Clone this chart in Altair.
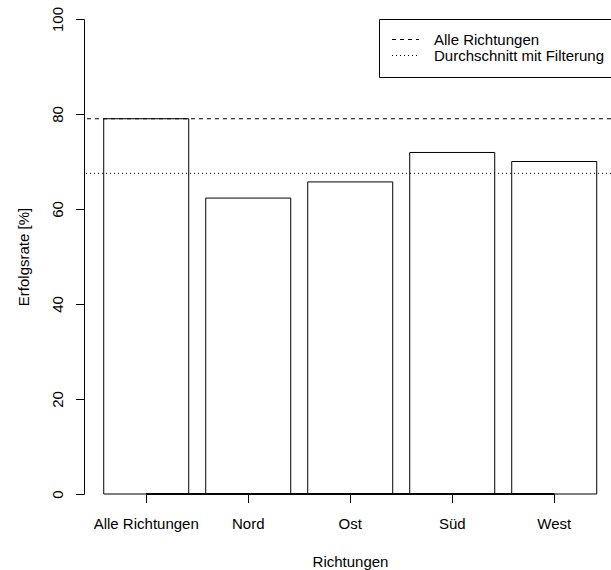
import altair as alt
import pandas as pd

# Success rate per direction
richtungen = ["Alle Richtungen", "Nord", "Ost", "Süd", "West"]
erfolgsrate = [79.0, 62.3, 65.7, 71.9, 70.0]

# Reference lines
linien_namen = ["Alle Richtungen", "Durchschnitt mit Filterung"]
linien_werte = [79.0, 67.5]
linien_striche = [[4, 4], [1, 3]]

y_ticks = [0, 20, 40, 60, 80, 100]

FONT = "Liberation Sans"
FS = 15

bars_df = pd.DataFrame({"Richtung": richtungen, "Erfolgsrate": erfolgsrate})
lines_df = pd.DataFrame({"Linie": linien_namen, "Wert": linien_werte})

x_scale = alt.Scale(domain=richtungen, paddingInner=1 / 6, paddingOuter=1 / 6,
                    align=0.58, round=False)
y_scale = alt.Scale(domain=[0, 100], nice=False, zero=True)

x_axis = alt.Axis(
    title="Richtungen", domain=False, grid=False,
    ticks=True, tickSize=8.5, tickColor="black", tickWidth=1,
    labelAngle=0, labelFont=FONT, labelFontSize=FS, labelColor="black",
    labelBaseline="alphabetic", labelPadding=26, labelOverlap=False, labelLimit=0,
    titleFont=FONT, titleFontSize=FS, titleFontWeight="normal", titleColor="black",
    titleBaseline="alphabetic", titleX=266, titleY=72,
)
y_axis = alt.Axis(
    title="Erfolgsrate [%]", values=y_ticks, grid=False,
    domain=True, domainColor="black", domainWidth=1,
    ticks=True, tickSize=8.5, tickColor="black", tickWidth=1,
    labelAngle=270, labelAlign="center", labelBaseline="alphabetic", labelPadding=13,
    labelFont=FONT, labelFontSize=FS, labelColor="black",
    titleFont=FONT, titleFontSize=FS, titleFontWeight="normal", titleColor="black",
    titleAngle=270, titleAlign="center", titleBaseline="alphabetic",
    titleX=-56, titleY=237.5,
)

bars = alt.Chart(bars_df).mark_bar(fill="white", stroke="black", strokeWidth=1).encode(
    x=alt.X("Richtung:N", sort=richtungen, scale=x_scale, axis=x_axis),
    y=alt.Y("Erfolgsrate:Q", scale=y_scale, axis=y_axis),
)

# baseline joining the bars from first to last tick
baseline = alt.Chart(bars_df).mark_rule(color="black", strokeWidth=1).encode(
    x=alt.datum(richtungen[0], type="nominal"),
    x2=alt.datum(richtungen[-1]),
    y=alt.datum(0),
)

# legend keys: a horizontal line segment three units either side of centre
legend_key = "M-3,0H3"

lines = alt.Chart(lines_df).mark_rule(color="black", strokeWidth=1).encode(
    y=alt.Y("Wert:Q", scale=y_scale),
    strokeDash=alt.StrokeDash(
        "Linie:N",
        scale=alt.Scale(domain=linien_namen, range=linien_striche),
        legend=alt.Legend(
            title=None, orient="none", legendX=295, legendY=0,
            symbolType=legend_key, symbolSize=81, symbolStrokeWidth=1,
            symbolStrokeColor="black", symbolOffset=6,
            labelFont=FONT, labelFontSize=FS, labelColor="black",
            labelOffset=21, labelLimit=0,
            padding=13, rowPadding=-1,
            fillColor="white", strokeColor="black",
        ),
    ),
)

chart = alt.layer(bars, baseline, lines).properties(
    width=527, height=475,
    padding={"left": 84, "top": 19, "right": 0, "bottom": 76},
    autosize="none",
    background="white",
).configure_view(stroke=None)

chart.save("out.html", embed_options={"renderer": "svg", "actions": False})
